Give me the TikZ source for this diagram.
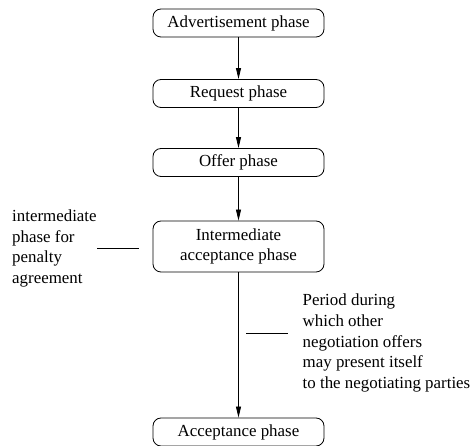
\documentclass[tikz,border=0pt]{standalone}
\usepackage{fontspec}
\setmainfont{Liberation Serif}
\usetikzlibrary{arrows.meta}
\begin{document}
\begin{tikzpicture}[x=1pt,y=-1pt,
  phase/.style={draw,rounded corners=8pt,line width=0.8pt,minimum width=171pt,
    minimum height=28pt,align=center,inner sep=2pt},
  flow/.style={line width=0.8pt,-{Triangle[length=11pt,width=5pt]}},
  note/.style={align=left,inner sep=0pt,anchor=west},
  tick/.style={line width=0.8pt}]
\useasboundingbox (0,0) rectangle (472,446);
\fontsize{16.9}{20.6}\selectfont
\node[phase] (adv) at (238.5,23) {Advertisement phase};
\node[phase] (req) at (238.5,93.5) {Request phase};
\node[phase] (off) at (238.5,162.5) {Offer phase};
\node[phase,minimum height=51pt] (inter) at (238.5,246.5) {Intermediate\\acceptance phase};
\node[phase] (acc) at (238.5,432) {Acceptance phase};
\draw[flow] (adv) -- (req);
\draw[flow] (req) -- (off);
\draw[flow] (off) -- (inter);
\draw[flow] (inter) -- (acc);
\node[note] (pen) at (12,248.5) {intermediate\\phase for\\penalty\\agreement};
\coordinate (pa) at (97,248);
\coordinate (pb) at (139,248);
\draw[tick] (pa) -- (pb);
\node[note] (per) at (302.5,343) {Period during\\which other\\negotiation offers\\may present itself\\to the negotiating parties};
\coordinate (qa) at (246,333);
\coordinate (qb) at (288,333);
\draw[tick] (qa) -- (qb);
\end{tikzpicture}
\end{document}
